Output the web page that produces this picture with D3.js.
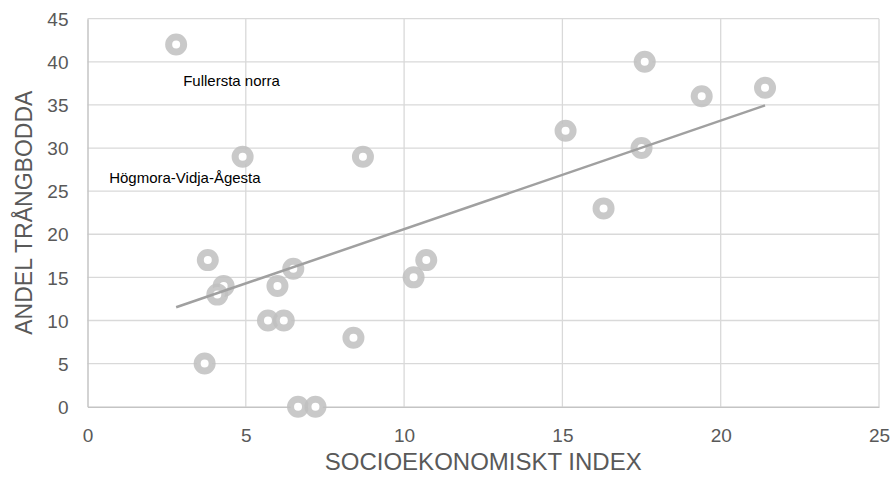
<!DOCTYPE html>
<html lang="sv">
<head>
    <meta charset="UTF-8">
    <title>Andel trångbodda</title>
    <script src="https://cdn.jsdelivr.net/npm/d3@7"></script>
    <style>
        html, body { margin: 0; padding: 0; background: #fff; overflow: hidden; }
        svg { display: block; }
        text { font-family: "Liberation Sans", Arial, sans-serif; }
    </style>
</head>
<body>
    <svg id="mainsvg" width="893" height="478"></svg>
    <script>
        // socioekonomiskt index / andel trångbodda per område
        const indexValues = [2.8, 4.9, 3.8, 4.3, 4.1, 3.7, 5.7, 6.2, 6.0, 6.5, 6.65, 7.2, 8.4, 8.7, 10.3, 10.7, 15.1, 16.3, 17.5, 17.6, 19.4, 21.4];
        const crowdedValues = [42, 29, 17, 14, 13, 5, 10, 10, 14, 16, 0, 0, 8, 29, 15, 17, 32, 23, 30, 40, 36, 37];
        const xTicks = [0, 5, 10, 15, 20, 25];
        const yTicks = [0, 5, 10, 15, 20, 25, 30, 35, 40, 45];
        const labelNames = ["Fullersta norra", "Högmora-Vidja-Ågesta"];
        const labelPoints = [0, 1];

        const svg = d3.select("svg");
        const width = +svg.attr('width');
        const height = +svg.attr('height');
        const margin = {top: 18.7, right: 14, bottom: 71.3, left: 87.5};
        const innerWidth = width - margin.left - margin.right;
        const innerHeight = height - margin.top - margin.bottom;
        const g = svg.append('g')
            .attr("transform", `translate(${margin.left}, ${margin.top})`);

        const x = d3.scaleLinear().domain([0, 25]).range([0, innerWidth]);
        const y = d3.scaleLinear().domain([0, 45]).range([innerHeight, 0]);

        const points = indexValues.map((v, i) => ({x: v, y: crowdedValues[i]}));

        // rutnät
        g.append("g").selectAll("line.hgrid")
            .data(yTicks.filter(d => d > 0))
            .join("line")
            .attr("x1", 0).attr("x2", innerWidth)
            .attr("y1", d => y(d)).attr("y2", d => y(d))
            .attr("stroke", "#d9d9d9").attr("stroke-width", 1.3);
        g.append("g").selectAll("line.vgrid")
            .data(xTicks.filter(d => d > 0))
            .join("line")
            .attr("x1", d => x(d)).attr("x2", d => x(d))
            .attr("y1", 0).attr("y2", innerHeight)
            .attr("stroke", "#d9d9d9").attr("stroke-width", 1.3);

        // axlar
        const xAxis = d3.axisBottom(x).tickValues(xTicks).tickSize(0).tickPadding(22);
        const yAxis = d3.axisLeft(y).tickValues(yTicks).tickSize(0).tickPadding(19);
        const xg = g.append("g").attr("transform", `translate(0, ${innerHeight})`).call(xAxis);
        const yg = g.append("g").call(yAxis);
        [xg, yg].forEach(a => {
            a.select(".domain").attr("stroke", "#c4c4c4").attr("stroke-width", 1.5);
            a.selectAll("text")
                .attr("fill", "#595959")
                .attr("font-size", "19px")
                .attr("font-family", "Liberation Sans, Arial, sans-serif");
        });
        yg.selectAll("text").attr("dy", "0.35em");

        // trendlinje (linjär regression)
        const mx = d3.mean(indexValues);
        const my = d3.mean(crowdedValues);
        const slope = d3.sum(points, p => (p.x - mx) * (p.y - my)) / d3.sum(points, p => (p.x - mx) ** 2);
        const intercept = my - slope * mx;
        const ext = d3.extent(indexValues);
        const line = d3.line().x(d => x(d)).y(d => y(intercept + slope * d));

        // punkter
        g.append("g").selectAll("circle")
            .data(points)
            .join("circle")
            .attr("cx", d => x(d.x))
            .attr("cy", d => y(d.y))
            .attr("r", 7.5)
            .attr("fill", "#fff")
            .attr("stroke", "#bfbfbf")
            .attr("stroke-opacity", 0.85)
            .attr("stroke-width", 7);

        g.append("path")
            .attr("d", line(ext))
            .attr("fill", "none")
            .attr("stroke", "#a0a0a0")
            .attr("stroke-width", 2.5);

        // etiketter
        const labelOffsets = [[7, 41, "start"], [18, 26, "end"]];
        g.append("g").selectAll("text")
            .data(labelNames)
            .join("text")
            .attr("x", (d, i) => x(points[labelPoints[i]].x) + labelOffsets[i][0])
            .attr("y", (d, i) => y(points[labelPoints[i]].y) + labelOffsets[i][1])
            .attr("text-anchor", (d, i) => labelOffsets[i][2])
            .attr("font-size", "15px")
            .attr("fill", "#000")
            .text(d => d);

        // axeltitlar
        svg.append("text")
            .attr("x", margin.left + innerWidth / 2)
            .attr("y", 470)
            .attr("text-anchor", "middle")
            .attr("font-size", "24px")
            .attr("fill", "#595959")
            .text("SOCIOEKONOMISKT INDEX");
        svg.append("text")
            .attr("transform", `translate(31.5, ${margin.top + innerHeight / 2}) rotate(-90)`)
            .attr("text-anchor", "middle")
            .attr("font-size", "23px")
            .attr("fill", "#595959")
            .text("ANDEL TRÅNGBODDA");
    </script>
</body>
</html>
